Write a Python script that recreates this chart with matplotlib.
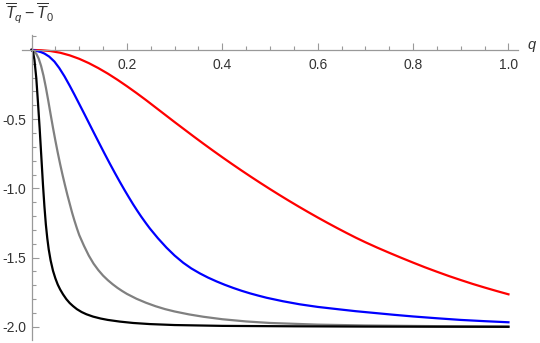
import numpy as np
import matplotlib.pyplot as plt
from matplotlib.ticker import MultipleLocator, FixedLocator

plt.rcParams['font.family'] = ['Liberation Sans', 'DejaVu Sans']
plt.rcParams['mathtext.fontset'] = 'custom'
plt.rcParams['mathtext.rm'] = 'Liberation Sans'
plt.rcParams['mathtext.it'] = 'Liberation Sans:italic'

# values
q_red = [0, 0.02, 0.04, 0.06, 0.08, 0.10, 0.12, 0.14, 0.16, 0.18, 0.20, 0.22, 0.24, 0.26,
         0.28, 0.30, 0.32, 0.34, 0.36, 0.38, 0.40, 0.42, 0.44, 0.46, 0.48, 0.50, 0.52, 0.54,
         0.56, 0.58, 0.60, 0.62, 0.64, 0.66, 0.68, 0.70, 0.725, 0.75, 0.775, 0.80, 0.825,
         0.85, 0.875, 0.90, 0.925, 0.95, 0.975, 1.0]
v_red = [0, -0.002, -0.008, -0.02, -0.039, -0.064, -0.095, -0.131, -0.171, -0.215, -0.262,
         -0.311, -0.362, -0.415, -0.468, -0.521, -0.573, -0.625, -0.676, -0.726, -0.775,
         -0.823, -0.870, -0.916, -0.961, -1.005, -1.048, -1.090, -1.131, -1.171, -1.210,
         -1.248, -1.285, -1.321, -1.356, -1.389, -1.428, -1.465, -1.501, -1.536, -1.570,
         -1.602, -1.633, -1.662, -1.690, -1.716, -1.741, -1.765]

q_blue = [0, 0.01, 0.02, 0.027, 0.037, 0.048, 0.058, 0.069, 0.08, 0.09, 0.10, 0.111, 0.122,
          0.132, 0.143, 0.153, 0.164, 0.175, 0.185, 0.195, 0.204, 0.213, 0.222, 0.23, 0.24,
          0.248, 0.265, 0.283, 0.30, 0.318, 0.335, 0.353, 0.37, 0.388, 0.405, 0.423, 0.44,
          0.458, 0.475, 0.493, 0.527, 0.562, 0.60, 0.646, 0.68, 0.72, 0.76, 0.80, 0.85,
          0.90, 0.95, 1.0]
v_blue = [0, -0.006, -0.016, -0.026, -0.048, -0.084, -0.13, -0.19, -0.258, -0.323, -0.39,
          -0.464, -0.539, -0.607, -0.681, -0.748, -0.82, -0.89, -0.952, -1.012, -1.064,
          -1.115, -1.163, -1.204, -1.252, -1.289, -1.36, -1.428, -1.485, -1.537, -1.578,
          -1.614, -1.644, -1.672, -1.696, -1.719, -1.739, -1.758, -1.774, -1.79, -1.815,
          -1.837, -1.856, -1.874, -1.887, -1.90, -1.913, -1.925, -1.938, -1.95, -1.959,
          -1.967]

q_gray = [0, 0.005, 0.01, 0.015, 0.02, 0.025, 0.03, 0.035, 0.04, 0.045, 0.05, 0.055, 0.06,
          0.065, 0.07, 0.075, 0.08, 0.085, 0.09, 0.095, 0.10, 0.11, 0.12, 0.13, 0.14, 0.15,
          0.16, 0.17, 0.18, 0.19, 0.20, 0.22, 0.24, 0.26, 0.28, 0.30, 0.33, 0.36, 0.40, 0.45,
          0.50, 0.60, 0.70, 0.85, 1.0]
v_gray = [0, -0.0075, -0.0275, -0.0625, -0.115, -0.185, -0.27, -0.365, -0.465, -0.5625,
          -0.655, -0.7425, -0.825, -0.9025, -0.975, -1.045, -1.11, -1.175, -1.233, -1.287,
          -1.337, -1.415, -1.485, -1.543, -1.59, -1.63, -1.663, -1.692, -1.718, -1.741,
          -1.762, -1.797, -1.826, -1.851, -1.872, -1.889, -1.91, -1.927, -1.945, -1.961,
          -1.972, -1.984, -1.99, -1.995, -1.997]

q_black = [0, 0.003, 0.006, 0.010, 0.0135, 0.017, 0.0205, 0.024, 0.027, 0.030, 0.033, 0.036,
           0.040, 0.045, 0.05, 0.055, 0.06, 0.066, 0.073, 0.08, 0.087, 0.095, 0.105, 0.115,
           0.129, 0.145, 0.16, 0.185, 0.213, 0.248, 0.30, 0.40, 0.55, 0.70, 0.85, 1.0]
v_black = [0, -0.012, -0.07, -0.205, -0.38, -0.566, -0.77, -0.975, -1.13, -1.26, -1.36,
           -1.44, -1.52, -1.595, -1.65, -1.695, -1.73, -1.765, -1.80, -1.828, -1.85, -1.872,
           -1.893, -1.909, -1.926, -1.94, -1.95, -1.962, -1.972, -1.98, -1.987, -1.993,
           -1.996, -1.998, -1.999, -2.0]

x_ticks = [0.2, 0.4, 0.6, 0.8, 1.0]
y_ticks = [-0.5, -1.0, -1.5, -2.0]

fig = plt.figure(figsize=(5.4, 3.43), dpi=100)
ax = fig.add_axes([22 / 540, 3 / 343, 496 / 540, 305 / 343])

lw = 1.6
ax.plot(q_red, v_red, color='#ff0000', lw=lw, solid_joinstyle='round')
ax.plot(q_blue, v_blue, color='#0000ff', lw=lw, solid_joinstyle='round')
ax.plot(q_gray, v_gray, color='#808080', lw=lw, solid_joinstyle='round')
ax.plot(q_black, v_black, color='#000000', lw=lw, solid_joinstyle='round')

ax.set_xlim(-0.02, 1.02)
ax.set_ylim(-2.095, 0.108)

# Mathematica-like axes through the origin
for side in ['top', 'right']:
    ax.spines[side].set_visible(False)
ax.spines['left'].set_position(('data', 0))
ax.spines['bottom'].set_position(('data', 0))
for side in ['left', 'bottom']:
    ax.spines[side].set_color('#999999')
    ax.spines[side].set_linewidth(0.9)

ax.xaxis.set_major_locator(FixedLocator(x_ticks))
ax.xaxis.set_minor_locator(MultipleLocator(0.05))
ax.yaxis.set_major_locator(FixedLocator(y_ticks))
ax.yaxis.set_minor_locator(MultipleLocator(0.1))
ax.set_xticklabels(['%.1f' % t for t in x_ticks])
ax.set_yticklabels(['-%.1f' % abs(t) for t in y_ticks])

ax.tick_params(which='both', direction='in', color='#999999', labelsize=10,
               labelcolor='#333333', width=0.8)
ax.tick_params(which='major', length=5)
ax.tick_params(which='minor', length=3)
ax.tick_params(axis='x', pad=6)
ax.tick_params(axis='y', pad=4)

fig.text(532 / 540, 1 - 46 / 343, '$q$', fontsize=10.5, ha='center', va='center',
         color='#333333')
fig.text(5 / 540, 1 - 14 / 343, r'$\overline{T}_q - \overline{T}_0$', fontsize=11.5,
         ha='left', va='center', color='#333333')

fig.savefig('out.png', dpi=100)
